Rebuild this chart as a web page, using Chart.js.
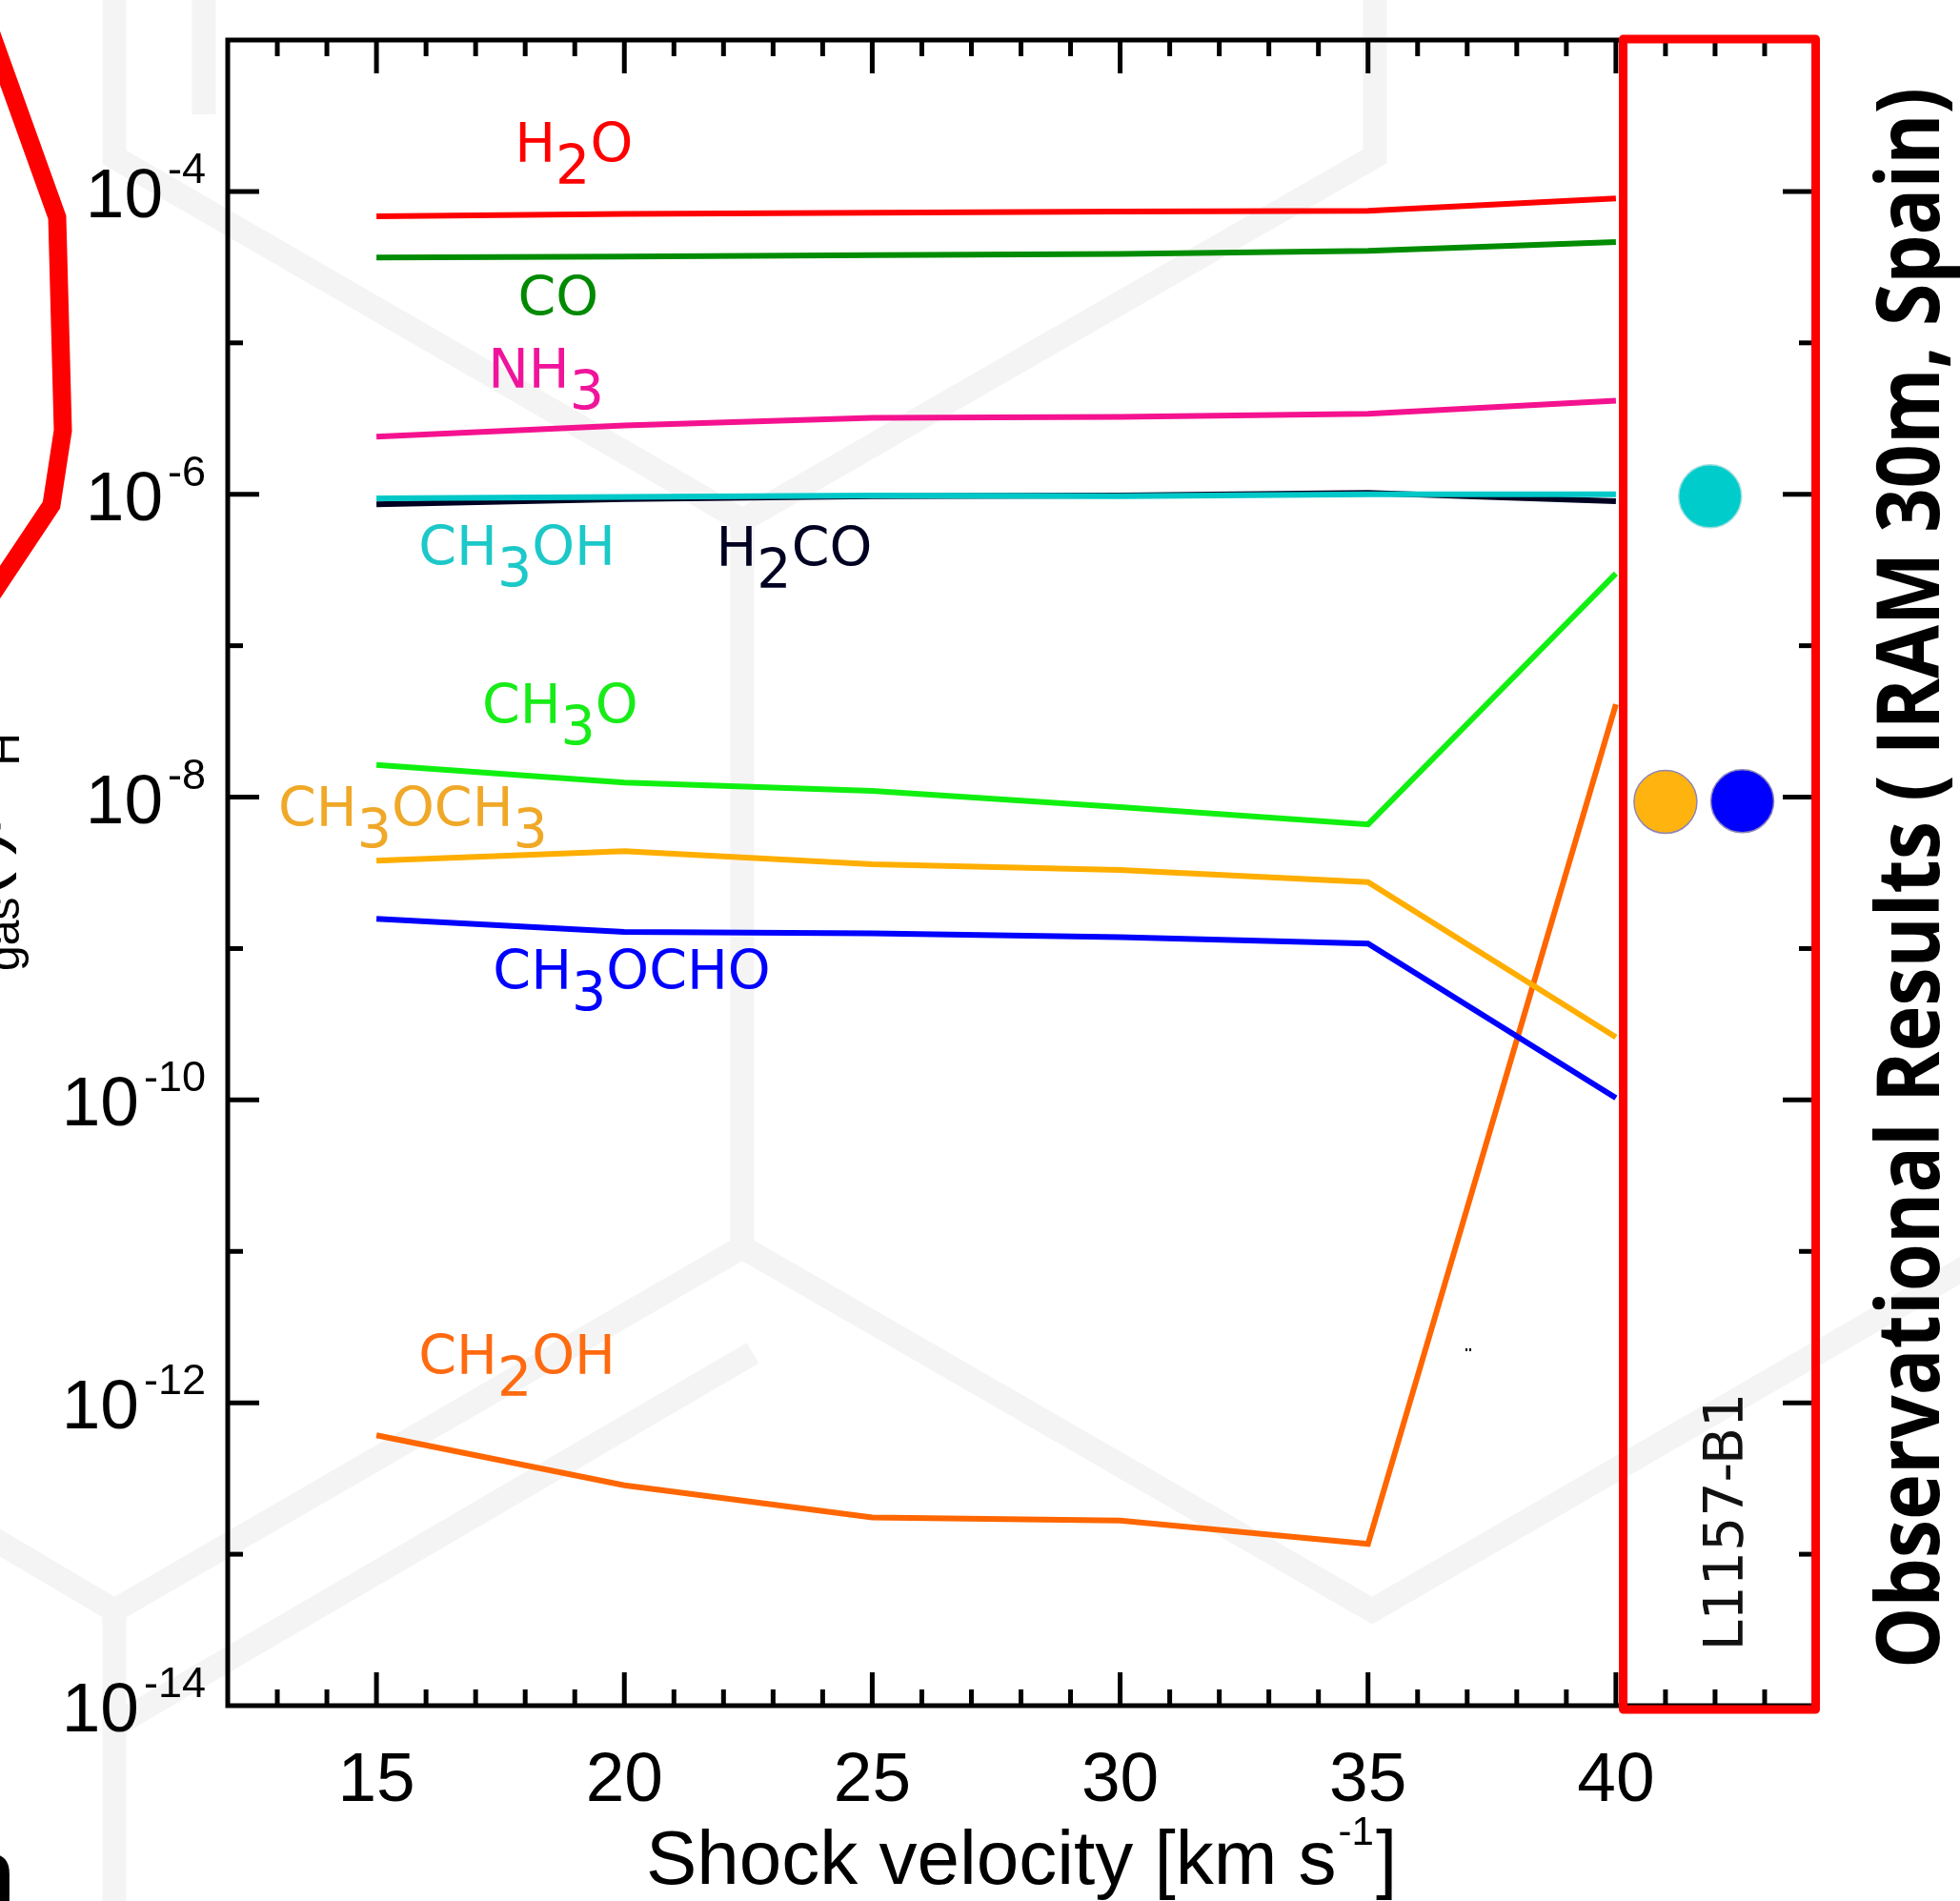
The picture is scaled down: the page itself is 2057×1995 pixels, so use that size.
<!DOCTYPE html>
<html>
<head>
<meta charset="utf-8">
<script src="https://cdn.jsdelivr.net/npm/chart.js@4.4.1/dist/chart.umd.min.js"></script>
<style>
  html, body { margin: 0; padding: 0; background: #fff; overflow: hidden; }
  #wrap { width: 2057px; height: 1995px; }
</style>
</head>
<body>
<div id="wrap"><canvas id="shockChart" width="2057" height="1995"></canvas></div>
<script>
// shock velocities of the model grid [km/s]
const velocities = [15, 20, 25, 30, 35, 40];

// gas-phase abundances
const h2o     = [6.84e-5, 7.1e-5, 7.24e-5, 7.38e-5, 7.45e-5, 9.0e-5];
const co      = [3.66e-5, 3.71e-5, 3.79e-5, 3.86e-5, 4.05e-5, 4.64e-5];
const nh3     = [2.4e-6, 2.85e-6, 3.2e-6, 3.25e-6, 3.4e-6, 4.15e-6];
const ch3oh   = [9.4e-7, 9.6e-7, 9.8e-7, 9.7e-7, 1.0e-6, 1.0e-6];
const h2co    = [8.6e-7, 9.3e-7, 9.7e-7, 9.8e-7, 1.02e-6, 9.0e-7];
const ch3o    = [1.63e-8, 1.25e-8, 1.1e-8, 8.6e-9, 6.6e-9, 3.0e-7];
const ch3och3 = [3.8e-9, 4.4e-9, 3.6e-9, 3.3e-9, 2.75e-9, 2.6e-10];
const ch3ocho = [1.57e-9, 1.29e-9, 1.26e-9, 1.19e-9, 1.08e-9, 1.03e-10];
const ch2oh   = [6.1e-13, 2.85e-13, 1.75e-13, 1.67e-13, 1.17e-13, 4.1e-8];

// observed values for L1157-B1 (put right of the model grid)
const obsNames = ['CH3OH', 'CH3OCH3', 'CH3OCHO'];
const obsX = [41.9, 41.0, 42.55];
const obsY = [9.7e-7, 9.3e-9, 9.4e-9];
const obsColors = ['#00cccc', '#ffb30f', '#0000ff'];

// axis ticks
const xTickValues = [15, 20, 25, 30, 35, 40];
const xTickLabels = ['15', '20', '25', '30', '35', '40'];
const yTickExponents = [-4, -6, -8, -10, -12, -14];

// molecule labels, anchored in data units (left edge, baseline)
const labelNames  = ['H2O', 'CO', 'NH3', 'CH3OH', 'H2CO', 'CH3O', 'CH3OCH3', 'CH3OCHO', 'CH2OH'];
const labelX      = [17.79, 17.85, 17.25, 15.85, 21.85, 17.13, 13.02, 17.35, 15.85];
const labelY      = [1.56e-4, 1.51e-5, 5.08e-6, 3.42e-7, 3.37e-7, 3.08e-8, 6.43e-9, 5.37e-10, 1.55e-12];
const labelColors = ['#ff0000', '#008a00', '#f0149b', '#1cc8c8', '#000022', '#18ec18', '#f0a828', '#0000ff', '#ff6a10'];

const W = 2057, H = 1995;

function toPoints(values) {
    return velocities.map((v, i) => ({ x: v, y: values[i] }));
}

function lineSet(label, values, color) {
    return {
        label: label,
        data: toPoints(values),
        borderColor: color,
        backgroundColor: color,
        borderWidth: 6,
        pointRadius: 0,
        tension: 0,
        fill: false
    };
}

// digits in a formula are drawn as subscripts
function drawFormula(ctx, text, x, y, size) {
    ctx.font = size + 'px "DejaVu Sans"';
    ctx.textAlign = 'left';
    ctx.textBaseline = 'alphabetic';
    let cx = x;
    for (const ch of text) {
        const sub = /[0-9]/.test(ch);
        ctx.fillText(ch, cx, sub ? y + 23 : y);
        cx += ctx.measureText(ch).width;
    }
}

function seg(ctx, pts) {
    ctx.beginPath();
    ctx.moveTo(pts[0][0], pts[0][1]);
    for (let i = 1; i < pts.length; i++) ctx.lineTo(pts[i][0], pts[i][1]);
    ctx.stroke();
}

// white page, faint watermark, bits of the neighbouring panel
const backdrop = {
    id: 'backdrop',
    beforeDraw(chart) {
        const ctx = chart.ctx;
        ctx.save();
        ctx.fillStyle = '#ffffff';
        ctx.fillRect(0, 0, W, H);

        ctx.strokeStyle = '#f4f4f4';
        ctx.lineWidth = 25;
        ctx.lineJoin = 'miter';
        ctx.lineCap = 'butt';
        seg(ctx, [[120, -10], [120, 165], [779, 546], [1443, 164], [1443, -10]]);
        seg(ctx, [[214, -10], [214, 120]]);
        seg(ctx, [[779, 546], [779, 1309]]);
        seg(ctx, [[-12, 1612], [120, 1690], [779, 1309], [1440, 1690], [2075, 1323]]);
        seg(ctx, [[120, 1690], [120, 2010]]);
        seg(ctx, [[120, 1811], [790, 1420]]);

        // red outline from the panel on the left
        ctx.strokeStyle = '#ff0000';
        ctx.lineWidth = 19;
        seg(ctx, [[-14, 22], [60, 228], [66, 452], [54, 530], [-14, 632]]);

        // y title of this panel, mostly cut off by the page edge
        ctx.save();
        ctx.translate(20, 1019);
        ctx.rotate(-Math.PI / 2);
        ctx.fillStyle = '#000';
        ctx.textAlign = 'left';
        ctx.textBaseline = 'alphabetic';
        ctx.font = '48px "Liberation Sans"';
        const wGas = ctx.measureText('gas').width;
        ctx.fillText('gas', 0, 0);
        ctx.font = '80px "Liberation Sans"';
        const wN = ctx.measureText('n').width;
        ctx.fillText('n', -wN, -20);
        const mid = '(i)/n';
        ctx.fillText(mid, wGas, -20);
        const wMid = ctx.measureText(mid).width;
        ctx.font = '48px "Liberation Sans"';
        ctx.fillText('H', wGas + wMid, 0);
        ctx.restore();

        // panel letter peeking in at the bottom left
        ctx.fillStyle = '#000';
        ctx.font = 'bold 100px "Liberation Sans"';
        ctx.fillText('n', -45, 2000);

        // tiny speck
        ctx.fillRect(1538, 1415, 2, 3);
        ctx.fillRect(1542, 1415, 2, 3);
        ctx.restore();
    }
};

// axes box, inward ticks, tick labels, titles and annotations
const frame = {
    id: 'frame',
    afterDatasetsDraw(chart) {
        const ctx = chart.ctx;
        const xs = chart.scales.x, ys = chart.scales.y;
        const a = chart.chartArea;
        ctx.save();
        ctx.strokeStyle = '#000';
        ctx.fillStyle = '#000';
        ctx.lineWidth = 5;
        ctx.lineCap = 'butt';
        ctx.strokeRect(a.left, a.top, a.right - a.left, a.bottom - a.top);

        for (let v = Math.ceil(xs.min) + 1; v < xs.max; v++) {
            const px = xs.getPixelForValue(v);
            const len = xTickValues.includes(v) ? 35 : 17;
            seg(ctx, [[px, a.bottom], [px, a.bottom - len]]);
            seg(ctx, [[px, a.top], [px, a.top + len]]);
        }
        for (let e = -13; e <= -4; e++) {
            const py = ys.getPixelForValue(Math.pow(10, e));
            const len = yTickExponents.includes(e) ? 33 : 16;
            seg(ctx, [[a.left, py], [a.left + len, py]]);
            seg(ctx, [[a.right, py], [a.right - len, py]]);
        }

        // x tick labels
        ctx.font = '73px "Liberation Sans"';
        ctx.textAlign = 'center';
        ctx.textBaseline = 'alphabetic';
        xTickValues.forEach((v, i) => {
            ctx.fillText(xTickLabels[i], xs.getPixelForValue(v), 1890);
        });

        // y tick labels 10^n
        const rightEdge = a.left - 23;
        yTickExponents.forEach(e => {
            const py = ys.getPixelForValue(Math.pow(10, e));
            const sup = String(e);
            ctx.font = '45px "Liberation Sans"';
            ctx.textAlign = 'left';
            const sw = ctx.measureText(sup).width;
            ctx.fillText(sup, rightEdge - sw, py - 9);
            ctx.font = '73px "Liberation Sans"';
            ctx.textAlign = 'right';
            ctx.fillText('10', rightEdge - sw - 5, py + 27);
        });

        // x title with superscript
        ctx.textAlign = 'left';
        ctx.font = '80px "Liberation Sans"';
        const t1 = 'Shock velocity [km s';
        const w1 = ctx.measureText(t1).width;
        const w3 = ctx.measureText(']').width;
        ctx.font = '42px "Liberation Sans"';
        const w2 = ctx.measureText('-1').width;
        let tx = 1072 - (w1 + w2 + 4 + w3) / 2;
        ctx.font = '80px "Liberation Sans"';
        ctx.fillText(t1, tx, 1977);
        tx += w1 + 2;
        ctx.font = '42px "Liberation Sans"';
        ctx.fillText('-1', tx, 1936);
        tx += w2 + 2;
        ctx.font = '80px "Liberation Sans"';
        ctx.fillText(']', tx, 1977);

        // molecule labels
        labelNames.forEach((name, i) => {
            ctx.fillStyle = labelColors[i];
            drawFormula(ctx, name, xs.getPixelForValue(labelX[i]), ys.getPixelForValue(labelY[i]), 57);
        });
        ctx.restore();
    },
    afterDraw(chart) {
        const ctx = chart.ctx;
        ctx.save();
        // red box around the observational column
        ctx.strokeStyle = '#ff0000';
        ctx.lineWidth = 9;
        ctx.lineJoin = 'round';
        ctx.strokeRect(1703.5, 41, 202, 1753);

        // source name
        ctx.fillStyle = '#111';
        ctx.save();
        ctx.translate(1829, 1597);
        ctx.rotate(-Math.PI / 2);
        ctx.font = '57px "DejaVu Sans"';
        ctx.textAlign = 'center';
        ctx.textBaseline = 'alphabetic';
        ctx.fillText('L1157-B1', 0, 0);
        ctx.restore();

        // side title
        ctx.fillStyle = '#000';
        ctx.save();
        ctx.translate(2035, 921.5);
        ctx.rotate(-Math.PI / 2);
        ctx.font = 'bold 92px "Open Sans"';
        const title = 'Observational Results ( IRAM 30m, Spain)';
        const tw = ctx.measureText(title).width;
        ctx.scale(1659 / tw, 1);
        ctx.textAlign = 'center';
        ctx.textBaseline = 'alphabetic';
        ctx.fillText(title, 0, 0);
        ctx.restore();
        ctx.restore();
    }
};

const ctx = document.getElementById('shockChart').getContext('2d');

const obsSets = obsNames.map((name, i) => ({
    label: name + ' (L1157-B1)',
    type: 'scatter',
    data: [{ x: obsX[i], y: obsY[i] }],
    pointRadius: 33,
    pointBackgroundColor: obsColors[i],
    pointBorderColor: i === 0 ? '#9fdede' : '#8f86b8',
    pointBorderWidth: 1.5,
    showLine: false
}));

new Chart(ctx, {
    type: 'line',
    data: {
        datasets: [
            ...obsSets,
            lineSet('H2O', h2o, '#ff0000'),
            lineSet('CO', co, '#008c00'),
            lineSet('NH3', nh3, '#f5128f'),
            lineSet('CH3OH', ch3oh, '#00c8c8'),
            lineSet('H2CO', h2co, '#000022'),
            lineSet('CH3O', ch3o, '#10f010'),
            lineSet('CH3OCH3', ch3och3, '#ffae00'),
            lineSet('CH3OCHO', ch3ocho, '#0000ff'),
            lineSet('CH2OH', ch2oh, '#ff6600')
        ]
    },
    options: {
        responsive: false,
        devicePixelRatio: 1,
        animation: false,
        events: [],
        layout: { padding: { left: 239, right: 153, top: 42, bottom: 205 } },
        scales: {
            x: { type: 'linear', min: 12, max: 44, display: false },
            y: { type: 'logarithmic', min: 1e-14, max: 1e-3, display: false }
        },
        plugins: {
            legend: { display: false },
            tooltip: { enabled: false }
        }
    },
    plugins: [backdrop, frame]
});
</script>
</body>
</html>
